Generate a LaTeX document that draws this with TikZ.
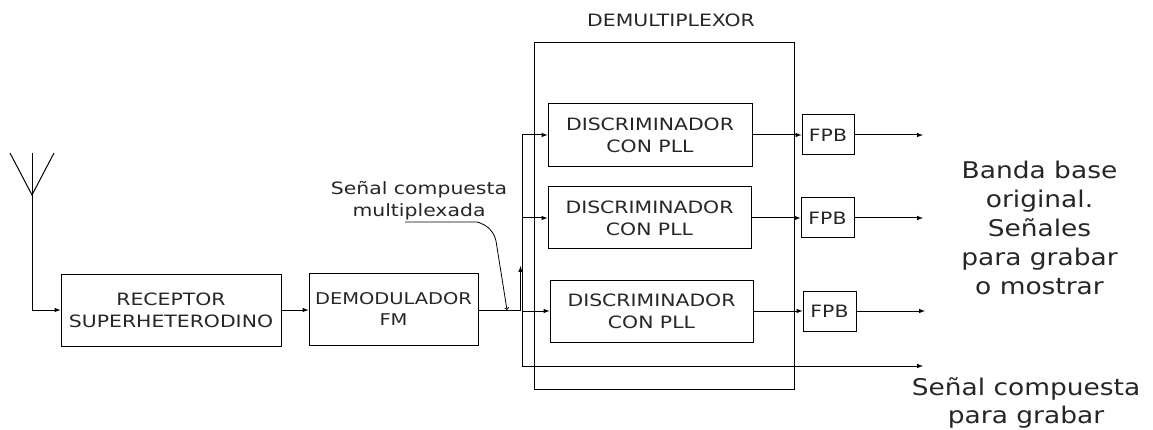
\documentclass[tikz,border=0pt]{standalone}
\usepackage{fontspec}
\setmainfont{DejaVu Sans}
\newfontfamily\anchafont[FakeStretch=1.2]{DejaVu Sans}
\newfontfamily\grandefont[FakeStretch=1.15]{DejaVu Sans}
\usetikzlibrary{arrows}
\tikzset{
  blockbox/.style={draw,inner sep=0pt,align=center,text=black!85,font=\anchafont\fontsize{17}{21.7}\selectfont},
  bigtext/.style={inner sep=0pt,align=center,text=black!85,font=\grandefont\fontsize{23}{29}\selectfont},
  smalltext/.style={inner sep=0pt,align=center,text=black!85,font=\anchafont\fontsize{17}{22}\selectfont}
}
\begin{document}
\begin{tikzpicture}[->,>=latex,x=1pt,y=-1pt,line width=1pt]
  \useasboundingbox (0,0) rectangle (1153,430);
  \node (demux) [draw,minimum width=260pt,minimum height=346pt,inner sep=0pt] at (664,216) {};
  \node (rec) [blockbox,minimum width=220pt,minimum height=72pt] at (171,310) {RECEPTOR\\SUPERHETERODINO};
  \node (dem) [blockbox,font=\anchafont\fontsize{16.2}{21.7}\selectfont,minimum width=169pt,minimum height=72pt] at (393.5,309) {DEMODULADOR\\FM};
  \node (disc1) [blockbox,minimum width=204pt,minimum height=63pt] at (650,135.5) {DISCRIMINADOR\\CON PLL};
  \node (disc2) [blockbox,minimum width=203pt,minimum height=62pt] at (649.5,218) {DISCRIMINADOR\\CON PLL};
  \node (disc3) [blockbox,minimum width=203pt,minimum height=62pt] at (651.5,311) {DISCRIMINADOR\\CON PLL};
  \node (fpb1) [blockbox,minimum width=52pt,minimum height=40pt] at (828,135) {FPB};
  \node (fpb2) [blockbox,minimum width=53pt,minimum height=40pt] at (827.5,218) {FPB};
  \node (fpb3) [blockbox,minimum width=53pt,minimum height=40pt] at (829.5,311) {FPB};
  \node (titulo) [smalltext] at (671,20) {DEMULTIPLEXOR};
  \node (senal) [smalltext] at (419,201) {Señal compuesta\\multiplexada};
  \node (banda) [bigtext] at (1039.5,228) {Banda base\\original.\\Señales\\para grabar\\o mostrar};
  \node (salida) [bigtext,font=\grandefont\fontsize{23}{28}\selectfont] at (1026,403) {Señal compuesta\\para grabar};
  % antena
  \coordinate (ant) at (32,195);
  \coordinate (antl) at (10,153);
  \coordinate (antc) at (32,153);
  \coordinate (antr) at (54,153);
  \coordinate (antb) at (32,310);
  \draw [-] (antl) -- (ant) -- (antr);
  \draw [-] (antc) -- (antb);
  \draw (antb) -- (rec.west);
  \draw (rec.east) -- (dem.west |- rec.east);
  % bus
  \coordinate (bus1) at (522,135);
  \coordinate (bus2) at (522,218);
  \coordinate (bus3) at (522,311);
  \coordinate (bus4) at (522,366);
  \coordinate (busin) at (520.5,310);
  \coordinate (busup) at (520.5,266);
  \coordinate (o1) at (923,135);
  \coordinate (o2) at (923,218);
  \coordinate (o3) at (925,311);
  \coordinate (o4) at (923,366);
  \draw [-] (dem.east |- busin) -- (busin);
  \draw (busin) -- (busup);
  \draw [-] (bus1) -- (bus4);
  \draw (bus1) -- (disc1.west |- bus1);
  \draw (bus2) -- (disc2.west);
  \draw (bus3) -- (disc3.west);
  \draw (bus4) -- (o4);
  \path (disc1.east |- fpb1) edge (fpb1.west);
  \path (disc2.east) edge (fpb2.west);
  \path (disc3.east) edge (fpb3.west);
  \path (fpb1.east) edge (o1);
  \path (fpb2.east) edge (o2);
  \path (fpb3.east) edge (o3);
  % flecha de la etiqueta
  \coordinate (nota) at (405,222);
  \coordinate (notb) at (507,310);
  \draw [->,>=to,line width=0.8pt] (nota) -- (477,222) .. controls (488,225) and (494,232) .. (496,241) -- (notb);
\end{tikzpicture}
\end{document}
